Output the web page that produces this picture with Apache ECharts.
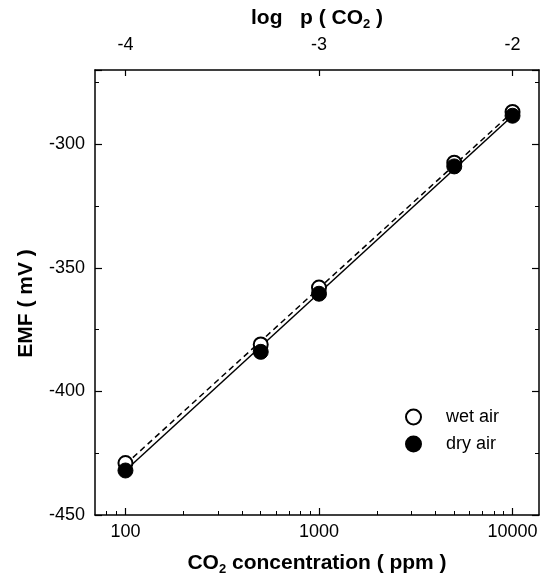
<!DOCTYPE html>
<html>
<head>
<meta charset="utf-8">
<script src="https://cdn.jsdelivr.net/npm/echarts@6/dist/echarts.min.js"></script>
<style>html,body{margin:0;padding:0;background:#fff}#c{width:547px;height:578px}</style>
</head>
<body>
<div id="c"></div>
<script>
// Data
const concentrations = [100, 500, 1000, 5000, 10000]; // ppm
const wetAir = [-429, -381, -358, -307.5, -287];       // mV, open circles
const dryAir = [-432, -384, -360.5, -309, -288.5];     // mV, filled circles
const wetFit = [[100, -429.5], [10000, -287]];          // dashed fit line
const dryFit = [[100, -432], [10000, -288.5]];          // solid fit line
const xMajorTicks = [100, 1000, 10000];
const xMinorTicks = [80, 90, 200, 300, 400, 500, 600, 700, 800, 900, 2000, 3000, 4000, 5000, 6000, 7000, 8000, 9000];
const xMin = 69.6, xMax = 13700;
const yMin = -450, yMax = -270, yInterval = 50;

const FONT = 'Liberation Sans, Arial, sans-serif';
const chart = echarts.init(document.getElementById('c'));
const pair = (xs, ys) => xs.map((x, i) => [x, ys[i]]);
const axisLine = { show: true, lineStyle: { color: '#000', width: 1.5 } };
const titleRich = {
  b: { fontFamily: FONT, fontSize: 21, fontWeight: 'bold', color: '#000' },
  s: { fontFamily: FONT, fontSize: 13, fontWeight: 'bold', color: '#000', verticalAlign: 'bottom', padding: [12, 0, 0, 0] }
};

chart.setOption({
  animation: false,
  backgroundColor: '#fff',
  grid: { left: 95, right: 8, top: 70, bottom: 63, outerBoundsMode: 'none', containLabel: false },
  legend: {
    orient: 'vertical', left: 400, top: 403,
    itemWidth: 15, itemHeight: 15, itemGap: 9,
    textStyle: { fontFamily: FONT, fontSize: 18, color: '#000', padding: [0, 0, 0, 20], lineHeight: 15 },
    data: ['wet air', 'dry air']
  },
  xAxis: [
    {
      type: 'log', logBase: 10, min: xMin, max: xMax, position: 'bottom',
      axisLine: axisLine,
      axisTick: { show: true, inside: true, length: 7, lineStyle: { color: '#000', width: 1.2 }, customValues: xMajorTicks },
      axisLabel: { customValues: xMajorTicks, fontFamily: FONT, fontSize: 18, color: '#000', margin: 8,
        formatter: v => String(v) },
      splitLine: { show: false },
      name: '{b|CO}{s|2}{b| concentration ( ppm )}',
      nameLocation: 'middle', nameGap: 36,
      nameTextStyle: { rich: titleRich }
    },
    {
      type: 'log', logBase: 10, min: xMin, max: xMax, position: 'bottom',
      axisLine: { show: false },
      axisTick: { show: true, inside: true, length: 4, lineStyle: { color: '#000', width: 1 }, customValues: xMinorTicks },
      axisLabel: { show: false },
      splitLine: { show: false }
    },
    {
      type: 'log', logBase: 10, min: xMin, max: xMax, position: 'top',
      axisLine: axisLine,
      axisTick: { show: true, inside: true, length: 6, lineStyle: { color: '#000', width: 1.2 }, customValues: xMajorTicks },
      axisLabel: { customValues: xMajorTicks, fontFamily: FONT, fontSize: 18, color: '#000', margin: 16,
        formatter: v => String(Math.round(Math.log10(v)) - 6) },
      splitLine: { show: false },
      name: '{b|log   p ( CO}{s|2}{b| )}',
      nameLocation: 'middle', nameGap: 36,
      nameTextStyle: { rich: titleRich }
    }
  ],
  yAxis: [
    {
      type: 'value', min: yMin, max: yMax, interval: yInterval, position: 'left',
      axisLine: axisLine,
      axisTick: { show: true, inside: true, length: 7, lineStyle: { color: '#000', width: 1.2 } },
      minorTick: { show: true, splitNumber: 2, length: 4, lineStyle: { color: '#000', width: 1 } },
      axisLabel: { fontFamily: FONT, fontSize: 18, color: '#000', margin: 10, showMaxLabel: false },
      splitLine: { show: false },
      name: 'EMF ( mV )', nameLocation: 'middle', nameGap: 58, nameRotate: 90,
      nameTextStyle: { fontFamily: FONT, fontSize: 21, fontWeight: 'bold', color: '#000', padding: [0, 22, 0, 0] }
    },
    {
      type: 'value', min: yMin, max: yMax, interval: yInterval, position: 'right',
      axisLine: axisLine,
      axisTick: { show: true, inside: true, length: 7, lineStyle: { color: '#000', width: 1.2 } },
      minorTick: { show: true, splitNumber: 2, length: 4, lineStyle: { color: '#000', width: 1 } },
      axisLabel: { show: false },
      splitLine: { show: false }
    }
  ],
  series: [
    { name: 'wet fit', type: 'line', data: wetFit, symbol: 'none', silent: true,
      lineStyle: { color: '#000', width: 1.5, type: [6, 4] }, z: 1 },
    { name: 'dry fit', type: 'line', data: dryFit, symbol: 'none', silent: true,
      lineStyle: { color: '#000', width: 1.5, type: 'solid' }, z: 1 },
    { name: 'wet air', type: 'scatter', data: pair(concentrations, wetAir), symbol: 'circle', symbolSize: 14,
      itemStyle: { color: '#fff', borderColor: '#000', borderWidth: 2, opacity: 1 }, z: 3 },
    { name: 'dry air', type: 'scatter', data: pair(concentrations, dryAir), symbol: 'circle', symbolSize: 15,
      itemStyle: { color: '#000', borderColor: '#000', borderWidth: 1, opacity: 1 }, z: 4 }
  ]
});
</script>
</body>
</html>
